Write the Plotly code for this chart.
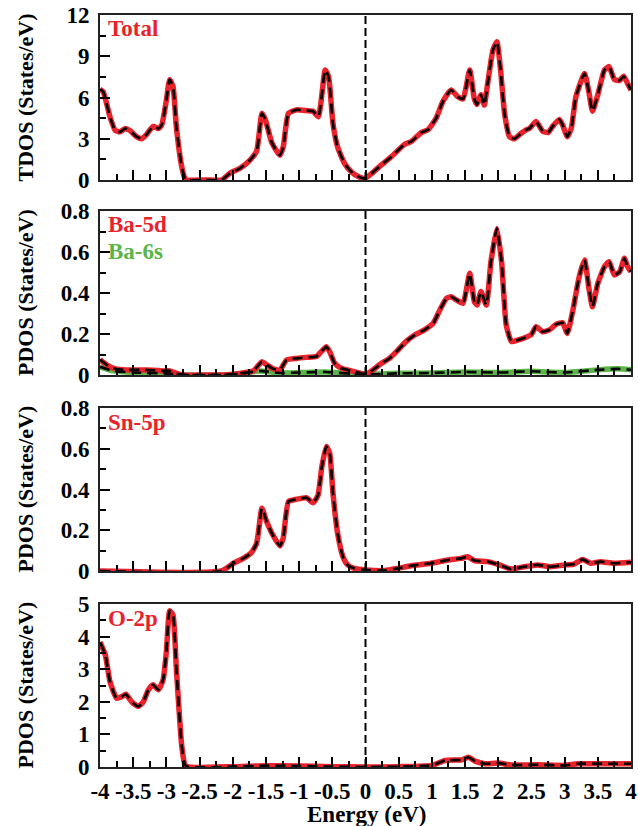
import plotly.graph_objects as go
from plotly.subplots import make_subplots

# ---- density of states data (energy in eV relative to E_F) ----
tdos_e = [-4.0, -3.95, -3.85, -3.77, -3.7, -3.62, -3.55, -3.45, -3.37, -3.3,
          -3.2, -3.12, -3.07, -3.0, -2.95, -2.9, -2.85, -2.77, -2.72, -2.7,
          -2.4, -2.17, -2.04, -1.89, -1.74, -1.64, -1.56, -1.51, -1.41, -1.29,
          -1.24, -1.16, -1.04, -0.89, -0.79, -0.71, -0.667, -0.607, -0.556, -0.49,
          -0.42, -0.315, -0.215, -0.11, -0.01, 0.086, 0.24, 0.39, 0.59, 0.69,
          0.84, 0.94, 1.065, 1.165, 1.29, 1.39, 1.47, 1.57, 1.64, 1.68,
          1.74, 1.79, 1.84, 1.92, 1.98, 2.035, 2.095, 2.17, 2.245, 2.345,
          2.42, 2.47, 2.57, 2.67, 2.75, 2.82, 2.92, 2.97, 3.04, 3.1,
          3.17, 3.3, 3.36, 3.42, 3.5, 3.6, 3.67, 3.75, 3.83, 3.89,
          3.95, 4.0]
tdos = [6.6, 6.4, 4.6, 3.6, 3.5, 3.75, 3.6, 3.15, 3.0, 3.3,
        3.9, 3.75, 4.0, 5.8, 7.3, 6.8, 3.9, 1.0, 0.1, 0,
        0, 0, 0.5, 0.85, 1.45, 2.1, 4.85, 4.4, 2.7, 1.8,
        2.4, 4.85, 5.1, 5.05, 5.0, 4.6, 5.8, 8.0, 7.5, 4.1,
        2.4, 1.2, 0.6, 0.25, 0.12, 0.45, 1.1, 1.7, 2.6, 2.8,
        3.45, 3.65, 4.5, 5.7, 6.55, 6.05, 5.9, 8.0, 5.9, 5.5,
        6.2, 5.45, 7.0, 9.45, 10.05, 8.0, 4.85, 3.15, 3.0, 3.4,
        3.65, 3.75, 4.25, 3.55, 3.45, 3.9, 4.4, 4.0, 3.15, 3.75,
        6.05, 7.75, 6.55, 5.0, 6.2, 8.0, 8.25, 7.3, 7.25, 7.55,
        7.0, 6.55]

ba5d_e = [-4.0, -3.9, -3.77, -3.6, -3.4, -3.2, -3.05, -2.95, -2.85, -2.75,
          -2.4, -2.14, -1.89, -1.69, -1.56, -1.49, -1.39, -1.29, -1.19, -1.04,
          -0.89, -0.74, -0.667, -0.59, -0.54, -0.465, -0.365, -0.215, -0.065, 0.01,
          0.11, 0.24, 0.36, 0.49, 0.61, 0.74, 0.89, 1.02, 1.12, 1.22,
          1.29, 1.37, 1.47, 1.57, 1.64, 1.68, 1.74, 1.82, 1.89, 1.98,
          2.05, 2.12, 2.2, 2.3, 2.4, 2.5, 2.57, 2.67, 2.77, 2.87,
          2.97, 3.04, 3.12, 3.22, 3.3, 3.37, 3.42, 3.5, 3.6, 3.67,
          3.75, 3.83, 3.9, 3.95, 4.0]
ba5d = [0.075, 0.05, 0.03, 0.025, 0.025, 0.023, 0.02, 0.02, 0.008, 0.0,
        0.0, 0.0, 0.008, 0.02, 0.065, 0.05, 0.03, 0.025, 0.073, 0.081,
        0.086, 0.09, 0.114, 0.138, 0.114, 0.057, 0.033, 0.02, 0.008, 0.003,
        0.024, 0.057, 0.081, 0.122, 0.163, 0.195, 0.22, 0.252, 0.317, 0.374,
        0.382, 0.366, 0.35, 0.496, 0.358, 0.341, 0.407, 0.341, 0.553, 0.715,
        0.553, 0.244, 0.163, 0.171, 0.182, 0.198, 0.236, 0.211, 0.22, 0.247,
        0.255, 0.203, 0.309, 0.48, 0.561, 0.415, 0.333, 0.447, 0.528, 0.553,
        0.488, 0.504, 0.569, 0.528, 0.504]

ba6s_e = [-4.0, -3.8, -3.5, -3.0, -2.8, -2.7, -2.2, -1.9, -1.6, -1.3,
          -1.0, -0.6, -0.3, 0.0, 0.5, 1.0, 1.5, 2.0, 2.5, 3.0,
          3.5, 3.8, 4.0]
ba6s = [0.04, 0.02, 0.012, 0.008, 0.002, 0.0, 0.0, 0.005, 0.02, 0.01,
        0.012, 0.015, 0.008, 0.003, 0.008, 0.01, 0.015, 0.012, 0.018, 0.012,
        0.025, 0.03, 0.025]

sn5p_e = [-4.0, -2.17, -1.99, -1.84, -1.72, -1.64, -1.56, -1.49, -1.41, -1.29,
          -1.24, -1.16, -1.04, -0.89, -0.79, -0.717, -0.657, -0.59, -0.54, -0.49,
          -0.42, -0.34, -0.27, -0.17, 0.01, 0.29, 0.49, 0.69, 0.99, 1.24,
          1.44, 1.54, 1.64, 1.84, 2.02, 2.19, 2.39, 2.59, 2.79, 3.02,
          3.14, 3.27, 3.39, 3.54, 3.74, 4.0]
sn5p = [0, 0, 0.038, 0.062, 0.09, 0.136, 0.308, 0.243, 0.185, 0.123,
        0.161, 0.341, 0.352, 0.36, 0.335, 0.37, 0.513, 0.611, 0.579, 0.382,
        0.185, 0.07, 0.03, 0.013, 0.005, 0.002, 0.013, 0.026, 0.038, 0.054,
        0.062, 0.07, 0.051, 0.046, 0.03, 0.01, 0.021, 0.03, 0.021, 0.03,
        0.034, 0.057, 0.038, 0.046, 0.038, 0.043]

o2p_e = [-4.0, -3.92, -3.85, -3.75, -3.67, -3.61, -3.52, -3.42, -3.35, -3.27,
         -3.2, -3.12, -3.05, -3.0, -2.95, -2.9, -2.85, -2.77, -2.72, -2.67,
         -2.0, -1.5, -1.0, -0.5, 0.0, 0.5, 1.0, 1.2, 1.45, 1.55,
         1.65, 1.8, 2.0, 2.2, 2.6, 3.0, 3.2, 3.6, 4.0]
o2p = [3.83, 3.44, 2.62, 2.11, 2.16, 2.23, 1.99, 1.86, 1.99, 2.37,
       2.52, 2.37, 2.67, 3.54, 4.79, 4.66, 3.03, 0.68, 0.07, 0.0,
       0.01, 0.04, 0.03, 0.01, 0.0, 0.01, 0.05, 0.2, 0.22, 0.3,
       0.18, 0.1, 0.12, 0.06, 0.07, 0.05, 0.1, 0.1, 0.1]

# ---- panel setup ----
y_titles = ["TDOS (States/eV)", "PDOS (States/eV)", "PDOS (States/eV)", "PDOS (States/eV)"]
x_title = "Energy (eV)"
y_ranges = [[0, 12], [0, 0.8], [0, 0.8], [0, 5]]
y_dticks = [3, 0.2, 0.2, 1]
x_ticks = [-4, -3.5, -3, -2.5, -2, -1.5, -1, -0.5, 0, 0.5, 1, 1.5, 2, 2.5, 3, 3.5, 4]
x_ticktext = ["-4", "-3.5", "-3", "-2.5", "-2", "-1.5", "-1", "-0.5", "0",
              "0.5", "1", "1.5", "2", "2.5", "3", "3.5", "4"]

RED = "#E8232B"
GREEN = "#5BB548"
FONT = "Liberation Serif"

fig = make_subplots(rows=4, cols=1)

def add_curve(x, y, color, row):
    fig.add_trace(go.Scatter(x=x, y=y, mode="lines",
                             line=dict(color=color, width=5.5, shape="spline",
                                       smoothing=0.5),
                             showlegend=False, hoverinfo="skip"), row=row, col=1)

def add_dashed(x, y, row):
    fig.add_trace(go.Scatter(x=x, y=y, mode="lines",
                             line=dict(color="black", width=2.6, dash="10px,6px",
                                       shape="spline", smoothing=0.5),
                             showlegend=False, hoverinfo="skip"), row=row, col=1)

add_curve(tdos_e, tdos, RED, 1)
add_dashed(tdos_e, tdos, 1)
add_curve(ba6s_e, ba6s, GREEN, 2)
add_curve(ba5d_e, ba5d, RED, 2)
add_dashed(ba6s_e, ba6s, 2)
add_dashed(ba5d_e, ba5d, 2)
add_curve(sn5p_e, sn5p, RED, 3)
add_dashed(sn5p_e, sn5p, 3)
add_curve(o2p_e, o2p, RED, 4)
add_dashed(o2p_e, o2p, 4)

# plot region in pixels and helpers to convert to paper fractions
plot_left, plot_w = 100, 531
plot_top, plot_h = 15, 752
def py(px):
    return 1 - (px - plot_top) / plot_h
def px_(x):
    return (x - plot_left) / plot_w

# panel extents in pixels (top, bottom)
panels_px = [(15, 180), (211, 375), (408, 571), (604, 767)]
domains = [[py(b), py(t)] for t, b in panels_px]

tickfont = dict(family=FONT, size=23, color="black", weight="bold")
for i in range(4):
    r = i + 1
    fig.update_xaxes(row=r, col=1, range=[-4, 4], tickmode="array",
                     tickvals=x_ticks, ticktext=x_ticktext,
                     showticklabels=(r == 4), ticks="inside", ticklen=10,
                     tickwidth=1.6, tickcolor="black",
                     minor=dict(ticks="inside", dtick=0.25, ticklen=6,
                                tickwidth=1.6, tickcolor="black"),
                     showline=True, linecolor="#222", linewidth=1.8, mirror=True,
                     showgrid=False, zeroline=False, tickfont=tickfont,
                     ticklabelstandoff=2, automargin=False)
    fig.update_yaxes(row=r, col=1, range=y_ranges[i], dtick=y_dticks[i],
                     domain=domains[i], ticks="inside", ticklen=10,
                     tickwidth=1.6, tickcolor="black",
                     minor=dict(ticks="inside", dtick=y_dticks[i] / 2, ticklen=6,
                                tickwidth=1.6, tickcolor="black"),
                     showline=True, linecolor="#222", linewidth=1.8, mirror=True,
                     showgrid=False, zeroline=False, tickfont=tickfont,
                     ticklabelstandoff=4, automargin=False)
    # Fermi level
    fig.add_vline(x=0, row=r, col=1,
                  line=dict(color="black", width=2, dash="8px,4px"))
    # y-axis title
    t, b = panels_px[i]
    fig.add_annotation(x=px_(25), y=py((t + b) / 2), xref="paper", yref="paper",
                       text=y_titles[i], showarrow=False, textangle=-90,
                       xanchor="center", yanchor="middle",
                       font=dict(family=FONT, size=22, color="black", weight="bold"))

# x-axis title
fig.add_annotation(x=px_(366), y=py(814), xref="paper", yref="paper",
                   text=x_title, showarrow=False, xanchor="center", yanchor="middle",
                   font=dict(family=FONT, size=23, color="black", weight="bold"))

# panel labels
label_specs = [("Total", 29, RED), ("Ba-5d", 224, RED), ("Ba-6s", 252, GREEN),
               ("Sn-5p", 422, RED), ("O-2p", 618, RED)]
for text, ypix, col in label_specs:
    fig.add_annotation(x=px_(106), y=py(ypix), xref="paper", yref="paper",
                       text=text, showarrow=False,
                       xanchor="left", yanchor="middle",
                       font=dict(family=FONT, size=23, color=col, weight="bold"))

fig.update_layout(width=638, height=826,
                  margin=dict(l=plot_left, r=638 - plot_left - plot_w,
                              t=plot_top, b=826 - plot_top - plot_h),
                  paper_bgcolor="white", plot_bgcolor="white",
                  showlegend=False)

fig.write_html("out.html")
